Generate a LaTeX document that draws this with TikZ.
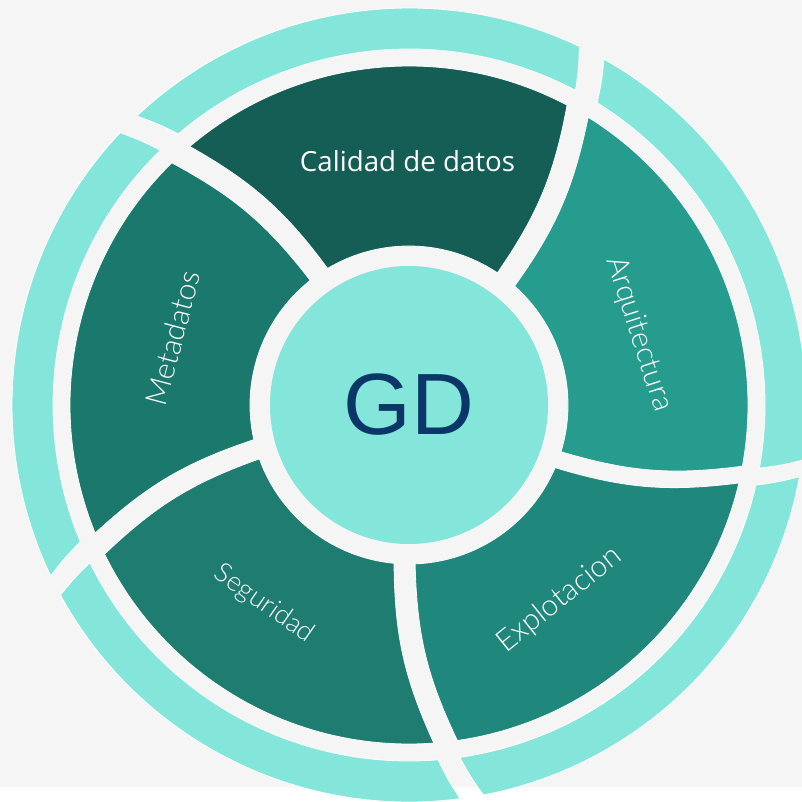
\documentclass[tikz,border=0pt]{standalone}
\usepackage{fontspec}
\setmainfont{Liberation Sans}
\newfontfamily\lightf{Lato Light}
\newfontfamily\regf{Open Sans}
\definecolor{bgc}{HTML}{F5F5F5}
\definecolor{ring}{HTML}{84E5DA}
\definecolor{cal}{HTML}{155E55}
\definecolor{arq}{HTML}{269C8F}
\definecolor{exl}{HTML}{1F877C}
\definecolor{seg}{HTML}{1F7C70}
\definecolor{met}{HTML}{1B786C}
\definecolor{navy}{HTML}{0A3768}
\tikzset{
  segm/.style={draw=white,line width=0.8pt,line join=miter},
  lab/.style={text=white,inner sep=0pt,font=\lightf\fontsize{30}{30}\selectfont},
}
\newcommand{\sect}[8]{%
  \fill[#1,segm] (#2:#6) arc[start angle=#2,end angle=#3,radius=#6]
    to[bend left=#8] (#4:#7) arc[start angle=#4,end angle=#5,radius=#7]
    to[bend right=#8] cycle;}
\begin{document}
\begin{tikzpicture}[x=1pt,y=1pt]
\useasboundingbox (0,0) rectangle (802,801);
\clip (0,0) rectangle (802,801);
\fill[white] (0,0) rectangle (802,801);
\fill[bgc] (0,14) rectangle (802,801);
\begin{scope}[shift={(409,396)}]
\sect{ring}{64.6}{133.3}{130.4}{62.1}{397}{356}{4}
\sect{ring}{136.7}{205.5}{202.6}{134.3}{397}{356}{4}
\sect{ring}{208.6}{277.4}{274.7}{206.3}{397}{356}{4}
\sect{ring}{-79.2}{-10.4}{-13}{-81.8}{397}{356}{4}
\sect{ring}{-8}{60.6}{58.1}{-10.2}{397}{356}{4}
\sect{cal}{62.2}{130.3}{120.8}{56.2}{339}{159}{12}
\sect{arq}{-10.4}{58.1}{48.4}{-17.1}{339}{159}{12}
\sect{exl}{-81.8}{-13.3}{-23.2}{-87.8}{339}{159}{12}
\sect{seg}{206.1}{274.2}{264.6}{199.8}{339}{159}{12}
\sect{met}{134.4}{202.2}{192.6}{128.4}{339}{159}{12}
\node[circle,fill=ring,minimum size=278pt,inner sep=0pt,text=navy,font=\fontsize{87}{87}\selectfont] (gd) at (0,0) {GD};
\end{scope}
\node[lab,font=\regf\fontsize{27.7}{28}\selectfont] (calidad) at (407.5,640) {Calidad de datos};
\node[lab,rotate=75] (metadatos) at (173,463) {Metadatos};
\node[lab,rotate=-72] (arquitectura) at (638.5,467) {Arquitectura};
\node[lab,rotate=38.7] (explotacion) at (559.5,201) {Explotacion};
\node[lab,rotate=-35,font=\lightf\fontsize{27}{27}\selectfont] (seguridad) at (264,197) {Seguridad};
\end{tikzpicture}
\end{document}
